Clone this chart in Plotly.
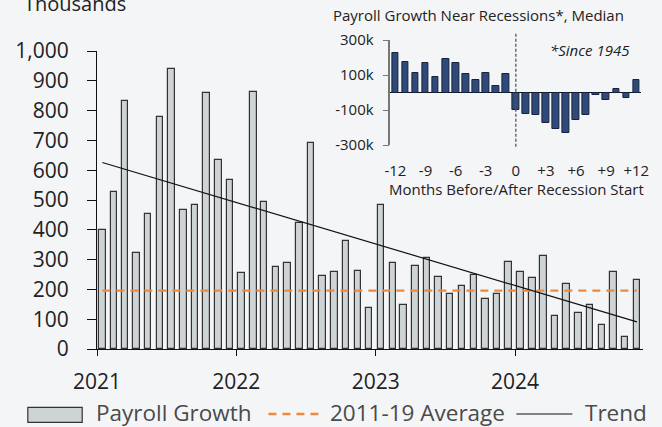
import plotly.graph_objects as go

# ---------------- data ----------------
years = [2021, 2022, 2023, 2024]
months = [f"{y}-{m:02d}-15" for y in years for m in range(1, 13)][:47]
payroll = [399, 528, 831, 321, 453, 779, 938, 465, 482, 860, 633, 567,
           254, 862, 494, 274, 290, 423, 690, 245, 257, 364, 261, 139,
           483, 289, 149, 280, 305, 243, 186, 213, 249, 168, 185, 292,
           258, 239, 312, 111, 219, 121, 148, 82, 257, 39, 230]
avg_2011_19 = 196
trend_ends = [626, 91]
year_ticks = ["2021-01-01", "2022-01-01", "2023-01-01", "2024-01-01"]
year_labels = ["2021", "2022", "2023", "2024"]
y_ticks = [0, 100, 200, 300, 400, 500, 600, 700, 800, 900, 1000]

inset_months = list(range(-12, 13))
inset_vals = [223, 173, 109, 168, 91, 192, 166, 103, 72, 109, 36, 107,
              -99, -120, -130, -175, -206, -234, -158, -131, -17, -42, 19, -32, 74]
inset_xticks = [-12, -9, -6, -3, 0, 3, 6, 9, 12]
inset_xlabels = ["-12", "-9", "-6", "-3", "0", "+3", "+6", "+9", "+12"]
inset_yticks = [300, 100, -100, -300]
inset_ylabels = ["300k", "100k", "-100k", "-300k"]

# ---------------- geometry helpers ----------------
W, H = 662, 427
ML, MR, MT, MB = 96.5, 19.3, 10, 78
PW, PH = W - ML - MR, H - MT - MB


def px(xp):
    return (xp - ML) / PW


def py(yp):
    return (H - MB - yp) / PH


FONT = "Open Sans"
BG = "#F4F5F7"
BAR_FILL = "#CED3D5"
BAR_LINE = "#333333"
ORANGE = "#F08A3A"
NAVY = "#2F4A7A"
INSET_FS = 15

fig = go.Figure()

fig.add_trace(go.Bar(
    x=months, y=payroll, width=17 * 86400000,
    marker=dict(color=BAR_FILL, line=dict(color=BAR_LINE, width=1.2)),
    name="Payroll Growth", showlegend=False, xaxis="x", yaxis="y"))

fig.add_trace(go.Scatter(
    x=[months[0], months[-1]], y=[avg_2011_19, avg_2011_19], mode="lines",
    line=dict(color=ORANGE, width=2.3, dash="8px,6px"),
    name="2011-19 Average", showlegend=False, xaxis="x", yaxis="y"))

fig.add_trace(go.Scatter(
    x=[months[0], months[-1]], y=trend_ends, mode="lines",
    line=dict(color="#111111", width=1.2),
    name="Trend", showlegend=False, xaxis="x", yaxis="y"))

fig.add_trace(go.Bar(
    x=inset_months, y=inset_vals, width=0.66,
    marker=dict(color=NAVY, line=dict(color="#15223a", width=1)),
    showlegend=False, xaxis="x2", yaxis="y2"))

fig.update_layout(
    width=W, height=H,
    margin=dict(l=ML, r=MR, t=MT, b=MB, autoexpand=False),
    paper_bgcolor=BG, plot_bgcolor=BG,
    font=dict(family=FONT, color="#222222"),
    showlegend=False,
    bargap=0,
    xaxis=dict(
        type="date", range=["2021-01-01", "2024-12-01"], domain=[0, 1],
        tickvals=year_ticks, ticktext=year_labels,
        ticks="outside", ticklen=6, tickwidth=1.2, tickcolor="#111111",
        showline=True, linecolor="#111111", linewidth=1.2,
        showgrid=False, zeroline=False, automargin=False,
        tickfont=dict(size=21, color="#222222"), ticklabelstandoff=8,
        anchor="y"),
    yaxis=dict(
        range=[0, 1000], domain=[0, py(51)],
        tickvals=y_ticks, tickformat=",",
        ticks="outside", ticklen=9, tickwidth=1.2, tickcolor="#111111",
        showline=True, linecolor="#111111", linewidth=1.2,
        showgrid=False, zeroline=False, automargin=False,
        tickfont=dict(size=21, color="#222222"), ticklabelstandoff=14,
        anchor="x"),
    xaxis2=dict(
        range=[-12.5, 12.5], domain=[px(390), px(641)],
        tickvals=inset_xticks, ticktext=inset_xlabels,
        ticks="", showline=False, showgrid=False, zeroline=False,
        automargin=False,
        tickfont=dict(size=INSET_FS, color="#222222"), ticklabelstandoff=15,
        anchor="y2"),
    yaxis2=dict(
        range=[-300, 300], domain=[py(145), py(40)],
        tickvals=inset_yticks, ticktext=inset_ylabels,
        ticks="outside", ticklen=6, tickwidth=1.2, tickcolor="#777777",
        showline=True, linecolor="#777777", linewidth=1.5,
        showgrid=False, zeroline=True, zerolinecolor="#111111", zerolinewidth=1.3,
        automargin=False,
        tickfont=dict(size=INSET_FS, color="#222222"), ticklabelstandoff=6,
        anchor="x2"),
)

shapes = [
    # recession start marker in inset
    dict(type="line", xref="x2", yref="paper", x0=0, x1=0, y0=py(146.7), y1=py(32),
         line=dict(color="#555555", width=1.3, dash="3px,2px")),
    # manual legend
    dict(type="rect", xref="paper", yref="paper", x0=px(27.3), x1=px(81.7),
         y0=py(422.3), y1=py(407.3), fillcolor=BAR_FILL,
         line=dict(color=BAR_LINE, width=1.2)),
    dict(type="line", xref="paper", yref="paper", x0=px(268), x1=px(322),
         y0=py(414), y1=py(414), line=dict(color=ORANGE, width=2.3, dash="8px,6px")),
    dict(type="line", xref="paper", yref="paper", x0=px(516), x1=px(572),
         y0=py(414), y1=py(414), line=dict(color="#111111", width=1.2)),
]
fig.update_layout(shapes=shapes)

ann = [
    dict(text="Thousands", x=px(128), y=py(4), xanchor="right", yanchor="middle",
         font=dict(size=20, color="#222222")),
    dict(text="Payroll Growth Near Recessions*, Median", x=px(478), y=py(15),
         xanchor="center", yanchor="middle", font=dict(size=INSET_FS, color="#222222")),
    dict(text="<i>*Since 1945</i>", x=px(590), y=py(50), xanchor="center",
         yanchor="middle", font=dict(size=INSET_FS, color="#222222")),
    dict(text="Months Before/After Recession Start", x=px(516), y=py(189),
         xanchor="center", yanchor="middle", font=dict(size=INSET_FS, color="#222222")),
    dict(text="Payroll Growth", x=px(93), y=py(412), xanchor="left",
         yanchor="middle", font=dict(size=22.5, color="#4a4a4a")),
    dict(text="2011-19 Average", x=px(328), y=py(412), xanchor="left",
         yanchor="middle", font=dict(size=22.5, color="#4a4a4a")),
    dict(text="Trend", x=px(583), y=py(412), xanchor="left",
         yanchor="middle", font=dict(size=22.5, color="#4a4a4a")),
]
for a in ann:
    a.update(xref="paper", yref="paper", showarrow=False)
fig.update_layout(annotations=ann)

fig.write_html(
    "out.html",
    config={"displayModeBar": False},
    post_script="document.body.style.margin='0';document.body.style.overflow='hidden';",
)
